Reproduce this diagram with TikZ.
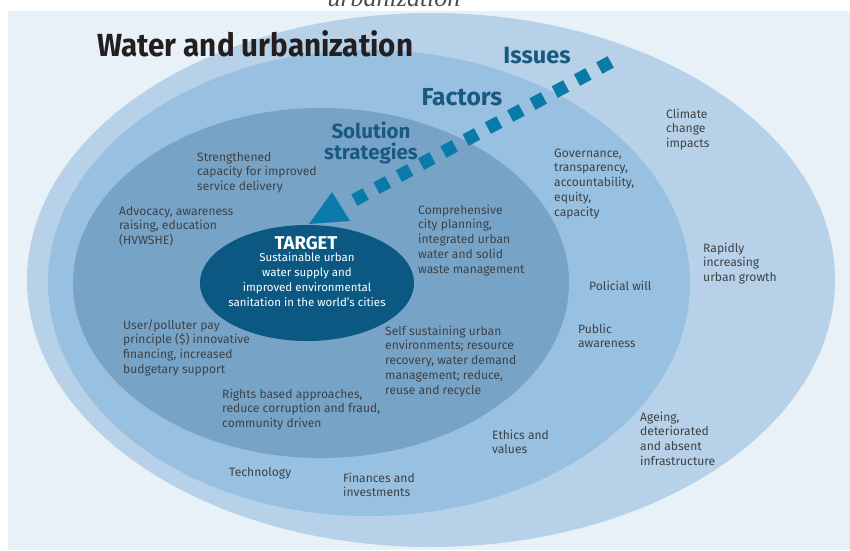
\documentclass[tikz,border=0pt]{standalone}
\usepackage{fontspec}
\usetikzlibrary{shapes.geometric}
\setmainfont{Fira Sans}
\newfontfamily\capfont{Liberation Serif}
\definecolor{panelC}{HTML}{E8F1F8}
\definecolor{issuesC}{HTML}{B7D2E8}
\definecolor{factorsC}{HTML}{98C0E0}
\definecolor{solC}{HTML}{77A3C6}
\definecolor{targetC}{HTML}{0B5983}
\definecolor{arrC}{HTML}{0A7BA8}
\definecolor{hdC}{HTML}{1B5A80}
\definecolor{txtC}{HTML}{3D4247}
\definecolor{titleC}{HTML}{231F20}
\newcommand{\lnsL}[1]{\begin{tabular}[t]{@{}l@{}}#1\end{tabular}}
\newcommand{\lnsC}[1]{\begin{tabular}[t]{@{}c@{}}#1\end{tabular}}
\tikzset{
  txt/.style={anchor=base west, inner sep=0pt, text=txtC, font=\fontsize{12.1}{14.8}\selectfont},
  hd/.style={anchor=base, inner sep=0pt, text=hdC},
  tgt/.style={anchor=base, inner sep=0pt, text=white},
}
\begin{document}
\begin{tikzpicture}[x=1pt,y=-1pt]
\useasboundingbox (0,0) rectangle (850,550);
\clip (0,0) rectangle (850,550);
\fill[white] (0,0) rectangle (850,550);
\fill[panelC] (8,11) rectangle (850,550);
\node[anchor=base, inner sep=0pt, text=black!70] (cap) at (394,6) {\capfont\itshape\fontsize{26}{26}\selectfont urbanization};
% rings
\fill[issuesC] (431,280) ellipse [x radius=404pt, y radius=267pt];
\fill[factorsC] (369,283) ellipse [x radius=321pt, y radius=233pt];
\fill[solC] (321,283) ellipse [x radius=248pt, y radius=175pt];
\node[ellipse, fill=targetC, minimum width=214pt, minimum height=116pt, inner sep=0pt] (target) at (307,283) {};
% title and headings
\node[anchor=base west, inner sep=0pt, text=titleC] (title) at (97,56) {\scalebox{0.925}[1]{\bfseries\fontsize{32}{32}\selectfont Water and urbanization}};
\node[hd] (issues) at (537,63) {\bfseries\fontsize{23.5}{23.5}\selectfont Issues};
\node[hd] (factors) at (462,105) {\bfseries\fontsize{24.6}{24.6}\selectfont Factors};
\node[hd] (solution) at (371,138) {\bfseries\fontsize{20.5}{20.5}\selectfont\lnsC{Solution\\[-1.5pt] strategies}};
% target text
\node[tgt] (tgtitle) at (306,249) {\bfseries\fontsize{18.5}{18.5}\selectfont TARGET};
\node[tgt] (tgtext) at (307,261) {\fontsize{11.5}{15.2}\selectfont\lnsC{Sustainable urban\\ water supply and\\ improved environmental\\ sanitation in the world's cities}};
% arrow
\coordinate (aS) at (610.7,61.9);
\coordinate (aE) at (354.3,200.1);
\draw[arrC, line width=13pt, dash pattern=on 13pt off 12.3pt] (aS) -- (aE);
\coordinate (tA) at (332,192);
\coordinate (tB) at (309,224);
\coordinate (tC) at (350,221);
\fill[arrC] (tA) -- (tB) -- (tC) -- cycle;
% solution texts
\node[txt] (strength) at (197,161) {\lnsL{Strengthened\\ capacity for improved\\ service delivery}};
\node[txt] (advocacy) at (119,215) {\lnsL{Advocacy, awareness\\ raising, education\\ (HVWSHE)}};
\node[txt] (compre) at (418,214) {\lnsL{Comprehensive\\ city planning,\\ integrated urban\\ water and solid\\ waste management}};
\node[txt] (user) at (123,329) {\lnsL{User/polluter pay\\ principle (\$) innovative\\ financing, increased\\ budgetary support}};
\node[txt] (selfsus) at (385,335) {\lnsL{Self sustaining urban\\ environments; resource\\ recovery, water demand\\ management; reduce,\\ reuse and recycle}};
\node[txt] (rights) at (222,398) {\lnsL{Rights based approaches,\\ reduce corruption and fraud,\\ community driven}};
% factors texts
\node[txt] (govern) at (554,157) {\lnsL{Governance,\\ transparency,\\ accountability,\\ equity,\\ capacity}};
\node[txt] (policial) at (589,290) {Policial will};
\node[txt] (public) at (578,333) {\lnsL{Public\\ awareness}};
\node[txt] (ethics) at (492,439) {\lnsL{Ethics and\\ values}};
\node[txt] (techno) at (229,476) {Technology};
\node[txt] (finance) at (343,482) {\lnsL{Finances and\\ investments}};
% issues texts
\node[txt] (climate) at (666,118) {\lnsL{Climate\\ change\\ impacts}};
\node[txt] (rapid) at (703,252) {\lnsL{Rapidly\\ increasing\\ urban growth}};
\node[txt] (ageing) at (640,421) {\lnsL{Ageing,\\ deteriorated\\ and absent\\ infrastructure}};
\end{tikzpicture}
\end{document}
